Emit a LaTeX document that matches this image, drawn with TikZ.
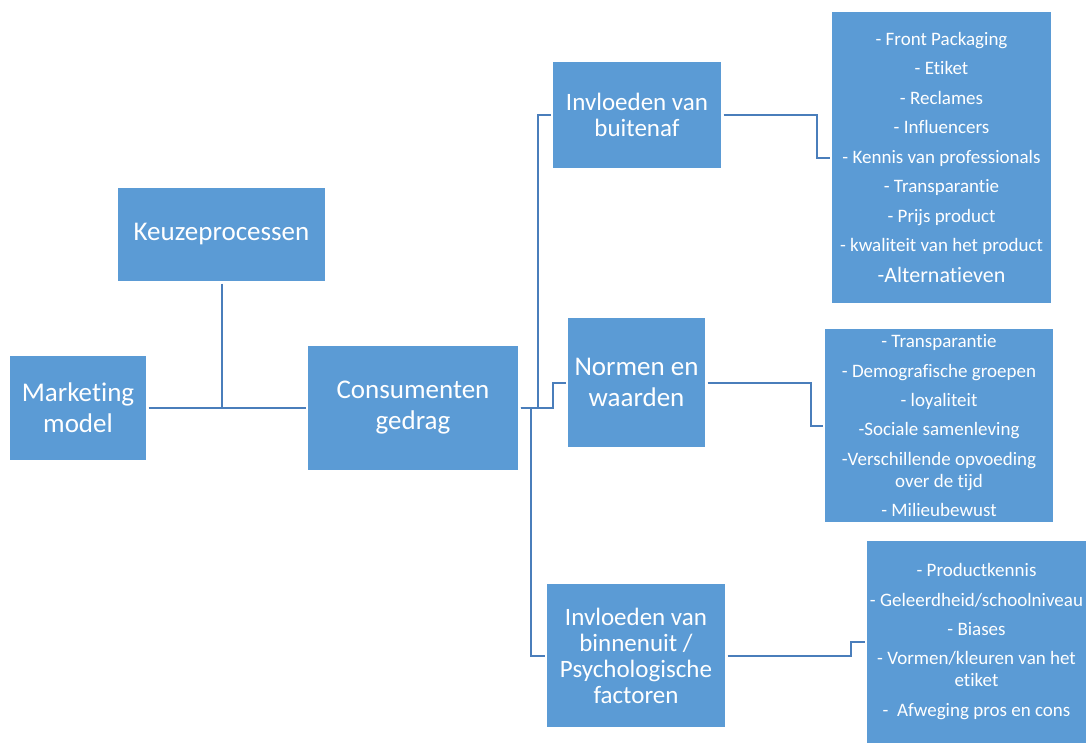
\documentclass[tikz,border=0pt]{standalone}
\usepackage{fontspec}
\setmainfont{Carlito}[Ligatures=NoCommon]
\usepackage{tikz}
\usetikzlibrary{positioning,calc}
\definecolor{vakblauw}{RGB}{91,155,213}
\definecolor{lijnblauw}{RGB}{74,126,187}
\tikzset{
  vak/.style={fill=vakblauw,text=white,align=center,inner sep=0pt,outer sep=2.5pt},
  groot/.style={vak,font=\fontsize{27}{31}\selectfont},
  midden/.style={vak,font=\fontsize{25}{26}\selectfont},
  lijst/.style={vak,font=\fontsize{19}{22}\selectfont},
  verbinding/.style={lijnblauw,line width=2pt}
}

\begin{document}
\begin{tikzpicture}[x=1pt,y=-1pt]
\useasboundingbox (0,0) rectangle (1086,742);
\fill[white] (0,0) rectangle (1086,742);
%linkerkant
\node[groot,minimum width=207,minimum height=93] (keuze) at (221.5,234.5) {Keuzeprocessen};
\node[groot,minimum width=136,minimum height=104] (marketing) at (78,408) {Marketing\\model};
\node[groot,minimum width=210,minimum height=124] (consument) at (413,408) {Consumenten\\gedrag};
%middenkolom
\node[midden,minimum width=168,minimum height=106] (buiten) at (637,115) {Invloeden van\\buitenaf};
\node[groot,minimum width=137,minimum height=129] (normen) at (636.5,382.5) {Normen en\\waarden};
\node[midden,minimum width=178,minimum height=143] (binnen) at (636,655.5) {Invloeden van\\binnenuit /\\Psychologische\\factoren};
%lijstjes rechts
\node[lijst,minimum width=219,minimum height=291] (lijst1) at (941.5,157.5)
  {- Front Packaging\\[7.5pt]- Etiket\\[7.5pt]- Reclames\\[7.5pt]- Influencers\\[7.5pt]- Kennis van professionals\\[7.5pt]- Transparantie\\[7.5pt]- Prijs product\\[7.5pt]- kwaliteit van het product\\[9pt]{\fontsize{22}{26}\selectfont -Alternatieven}};
\node[lijst,minimum width=228,minimum height=193] (lijst2) at (939,425.5)
  {- Transparantie\\[7.5pt]- Demografische groepen\\[7.5pt]- loyaliteit\\[7pt]-Sociale samenleving\\[7.5pt]-Verschillende opvoeding\\over de tijd\\[7pt]- Milieubewust};
\node[lijst,minimum width=219,minimum height=202] (lijst3) at (976.5,641.5)
  {- Productkennis\\[7.5pt]- Geleerdheid/schoolniveau\\[7.5pt]- Biases\\[7pt]- Vormen/kleuren van het\\etiket\\[7.5pt]-\ \ Afweging pros en cons};
%verbindingen
\draw[verbinding] (marketing.east) -- (consument.west);
\draw[verbinding] (keuze.south) -- (keuze.south |- marketing.east);
\draw[verbinding] (consument.east) -- ++(17,0) |- (buiten.west);
\draw[verbinding] (consument.east) -- ++(10,0) |- (binnen.west);
\draw[verbinding] (consument.east) -- ++(32,0) |- (normen.west);
\draw[verbinding] (buiten.east) -- ++(93,0) |- (lijst1.west);
\draw[verbinding] (normen.east) -- ++(103,0) |- (lijst2.west);
\draw[verbinding] (binnen.east) -- ++(123,0) |- (lijst3.west);
\end{tikzpicture}
\end{document}
